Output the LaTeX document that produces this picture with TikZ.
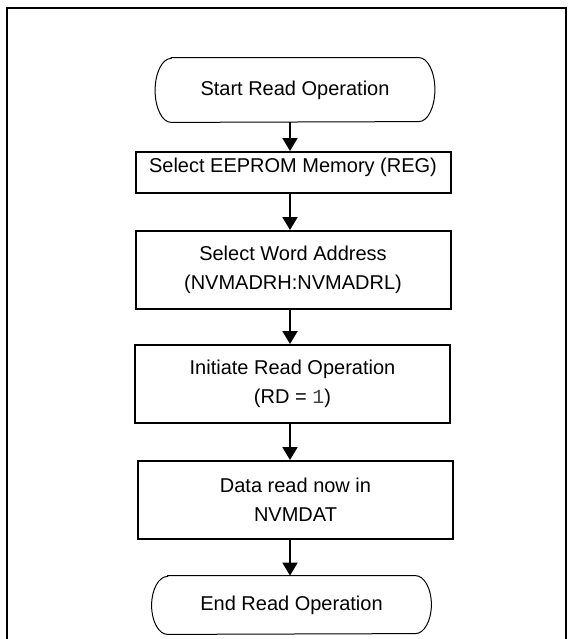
\documentclass[tikz,border=0pt]{standalone}
\usepackage{fontspec}
\setmainfont{Liberation Sans}
\setmonofont{Liberation Mono}
\usetikzlibrary{arrows.meta,positioning}

\begin{document}
\begin{tikzpicture}[x=0.5pt,y=-0.5pt,
    font={\fontsize{10}{14.5}\selectfont},
    term/.style={minimum width=139.5pt,inner sep=0pt,align=center},
    termline/.style={line width=0.5pt},
    stepbox/.style={draw,line width=1pt,minimum width=157.5pt,minimum height=39pt,align=center,inner sep=0pt},
    flow/.style={line width=1pt,-{Triangle[width=7.5pt,length=6.5pt]}}]
  \useasboundingbox (0,0) rectangle (573,639);
  % frame
  \draw[line width=1pt] (7,645) |- (566,8) -- (566,645);
  \coordinate (axis) at (290,0);
  \node[term,minimum height=32pt] (start) at (295,90) {Start Read Operation};
  \node[stepbox,minimum height=20.5pt,text depth=7.6pt] (reg) at (293,172.5) {Select EEPROM Memory (REG)};
  \node[stepbox] (addr) at (293,270) {Select Word Address\\(NVMADRH:NVMADRL)};
  \node[stepbox] (rd) at (292.5,384) {Initiate Read Operation\\(RD = {\ttfamily\color{black!75}1})};
  \node[stepbox] (dat) at (295.5,500) {Data read now in\\NVMDAT};
  \node[term,minimum height=29pt] (stop) at (291.5,605) {End Read Operation};
  % terminal outlines with flat elliptic ends
  \draw[termline] ([xshift=8pt]start.north west) -- ([xshift=-8pt]start.north east)
    arc[start angle=90,end angle=-90,x radius=8pt,y radius=16pt]
    -- ([xshift=8pt]start.south west)
    arc[start angle=270,end angle=90,x radius=8pt,y radius=16pt] -- cycle;
  \draw[termline] ([xshift=8pt]stop.north west) -- ([xshift=-8pt]stop.north east)
    arc[start angle=90,end angle=-90,x radius=8pt,y radius=14.5pt]
    -- ([xshift=8pt]stop.south west)
    arc[start angle=270,end angle=90,x radius=8pt,y radius=14.5pt] -- cycle;
  \draw[flow] (start.south -| axis) -- (reg.north -| axis);
  \draw[flow] (reg.south -| axis) -- (addr.north -| axis);
  \draw[flow] (addr.south -| axis) -- (rd.north -| axis);
  \draw[flow] (rd.south -| axis) -- (dat.north -| axis);
  \draw[flow] (dat.south -| axis) -- (stop.north -| axis);
\end{tikzpicture}
\end{document}
